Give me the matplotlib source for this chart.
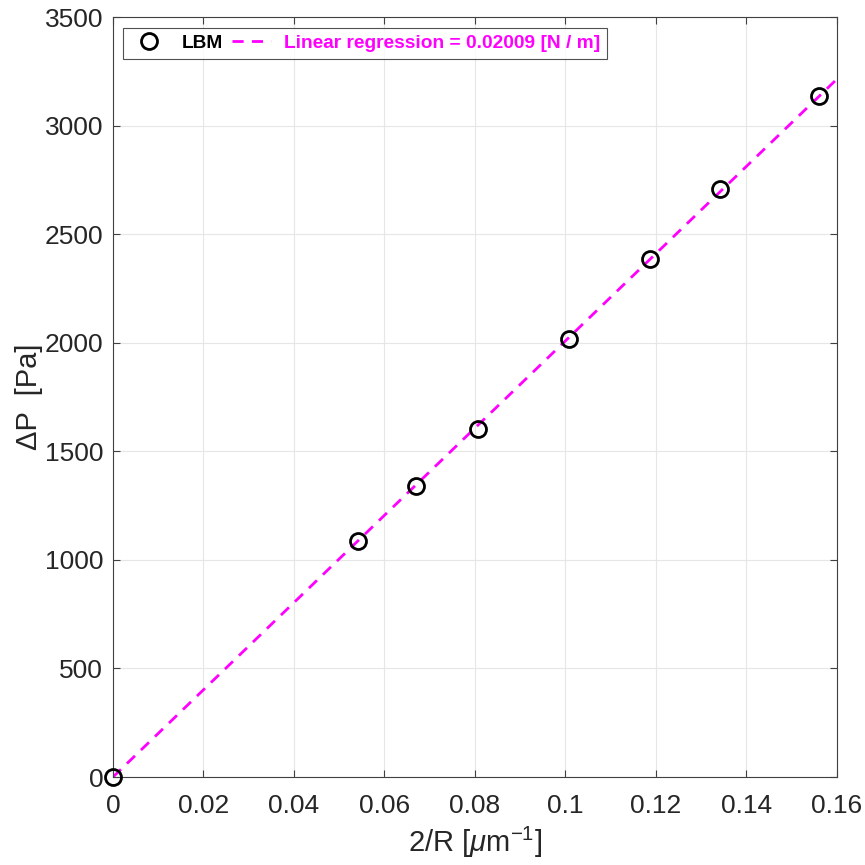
import numpy as np
import matplotlib
matplotlib.use("Agg")
import matplotlib.pyplot as plt

# Laplace test: pressure jump vs droplet curvature
inv_radius = [0.0, 0.0541, 0.0670, 0.0807, 0.1008, 0.1187, 0.1341, 0.1560]   # 2/R [1/um]
delta_p = [0.0, 1087, 1340, 1602, 2017, 2385, 2708, 3136]                    # [Pa]
sigma = 0.02009   # fitted surface tension [N/m]

plt.rcParams['font.family'] = ['Liberation Sans', 'DejaVu Sans']
plt.rcParams['mathtext.fontset'] = 'custom'
plt.rcParams['mathtext.rm'] = 'Liberation Sans'
plt.rcParams['mathtext.it'] = 'Liberation Sans:italic'

fig = plt.figure(figsize=(8.65, 8.65), dpi=100)
ax = fig.add_axes([0.1306, 0.1017, 0.837, 0.8786])

ax.plot(inv_radius, delta_p, 'o', mfc='none', mec='black', mew=2.0, ms=11.5,
        label='LBM', zorder=3, clip_on=False)

# regression line, 2/R in 1/um -> factor 1e6
x_fit = np.array([0.0, 0.16])
ax.plot(x_fit, sigma * 1e6 * x_fit, '--', color='#ff00ff', lw=2.0, dashes=(4, 3),
        label=f'Linear regression = {sigma:.5f} [N / m]', zorder=2)

ax.set_xlim(0, 0.16)
ax.set_ylim(0, 3500)
ax.set_xticks(np.arange(0, 0.161, 0.02))
ax.set_xticklabels(['0', '0.02', '0.04', '0.06', '0.08', '0.1', '0.12', '0.14', '0.16'])
ax.set_yticks(np.arange(0, 3501, 500))

ax.grid(True, color='#e6e6e6', lw=0.8)
ax.set_axisbelow(True)
for s in ax.spines.values():
    s.set_color('#404040')
    s.set_linewidth(0.8)
ax.tick_params(direction='in', length=5, width=0.8, colors='#404040',
               labelcolor='#262626', labelsize=19, top=True, right=True, pad=7)
ax.tick_params(axis='x', pad=12)

ax.set_xlabel('2/R [$\\mu$m$^{-1}$]', fontsize=21, color='#262626', labelpad=5)
ax.set_ylabel('ΔP  [Pa]', fontsize=21, color='#262626', labelpad=1)

leg = ax.legend(loc='upper left', ncol=2, fontsize=13.8, frameon=True, fancybox=False,
                edgecolor='#262626', borderpad=0.35, borderaxespad=0, handlelength=2.0,
                columnspacing=0.5, handletextpad=0.7, bbox_to_anchor=(0.0138, 0.9855))
leg.get_frame().set_linewidth(0.8)
for txt, col in zip(leg.get_texts(), ['black', '#ff00ff']):
    txt.set_color(col)
    txt.set_fontweight('bold')

fig.savefig('out.png', dpi=100)
